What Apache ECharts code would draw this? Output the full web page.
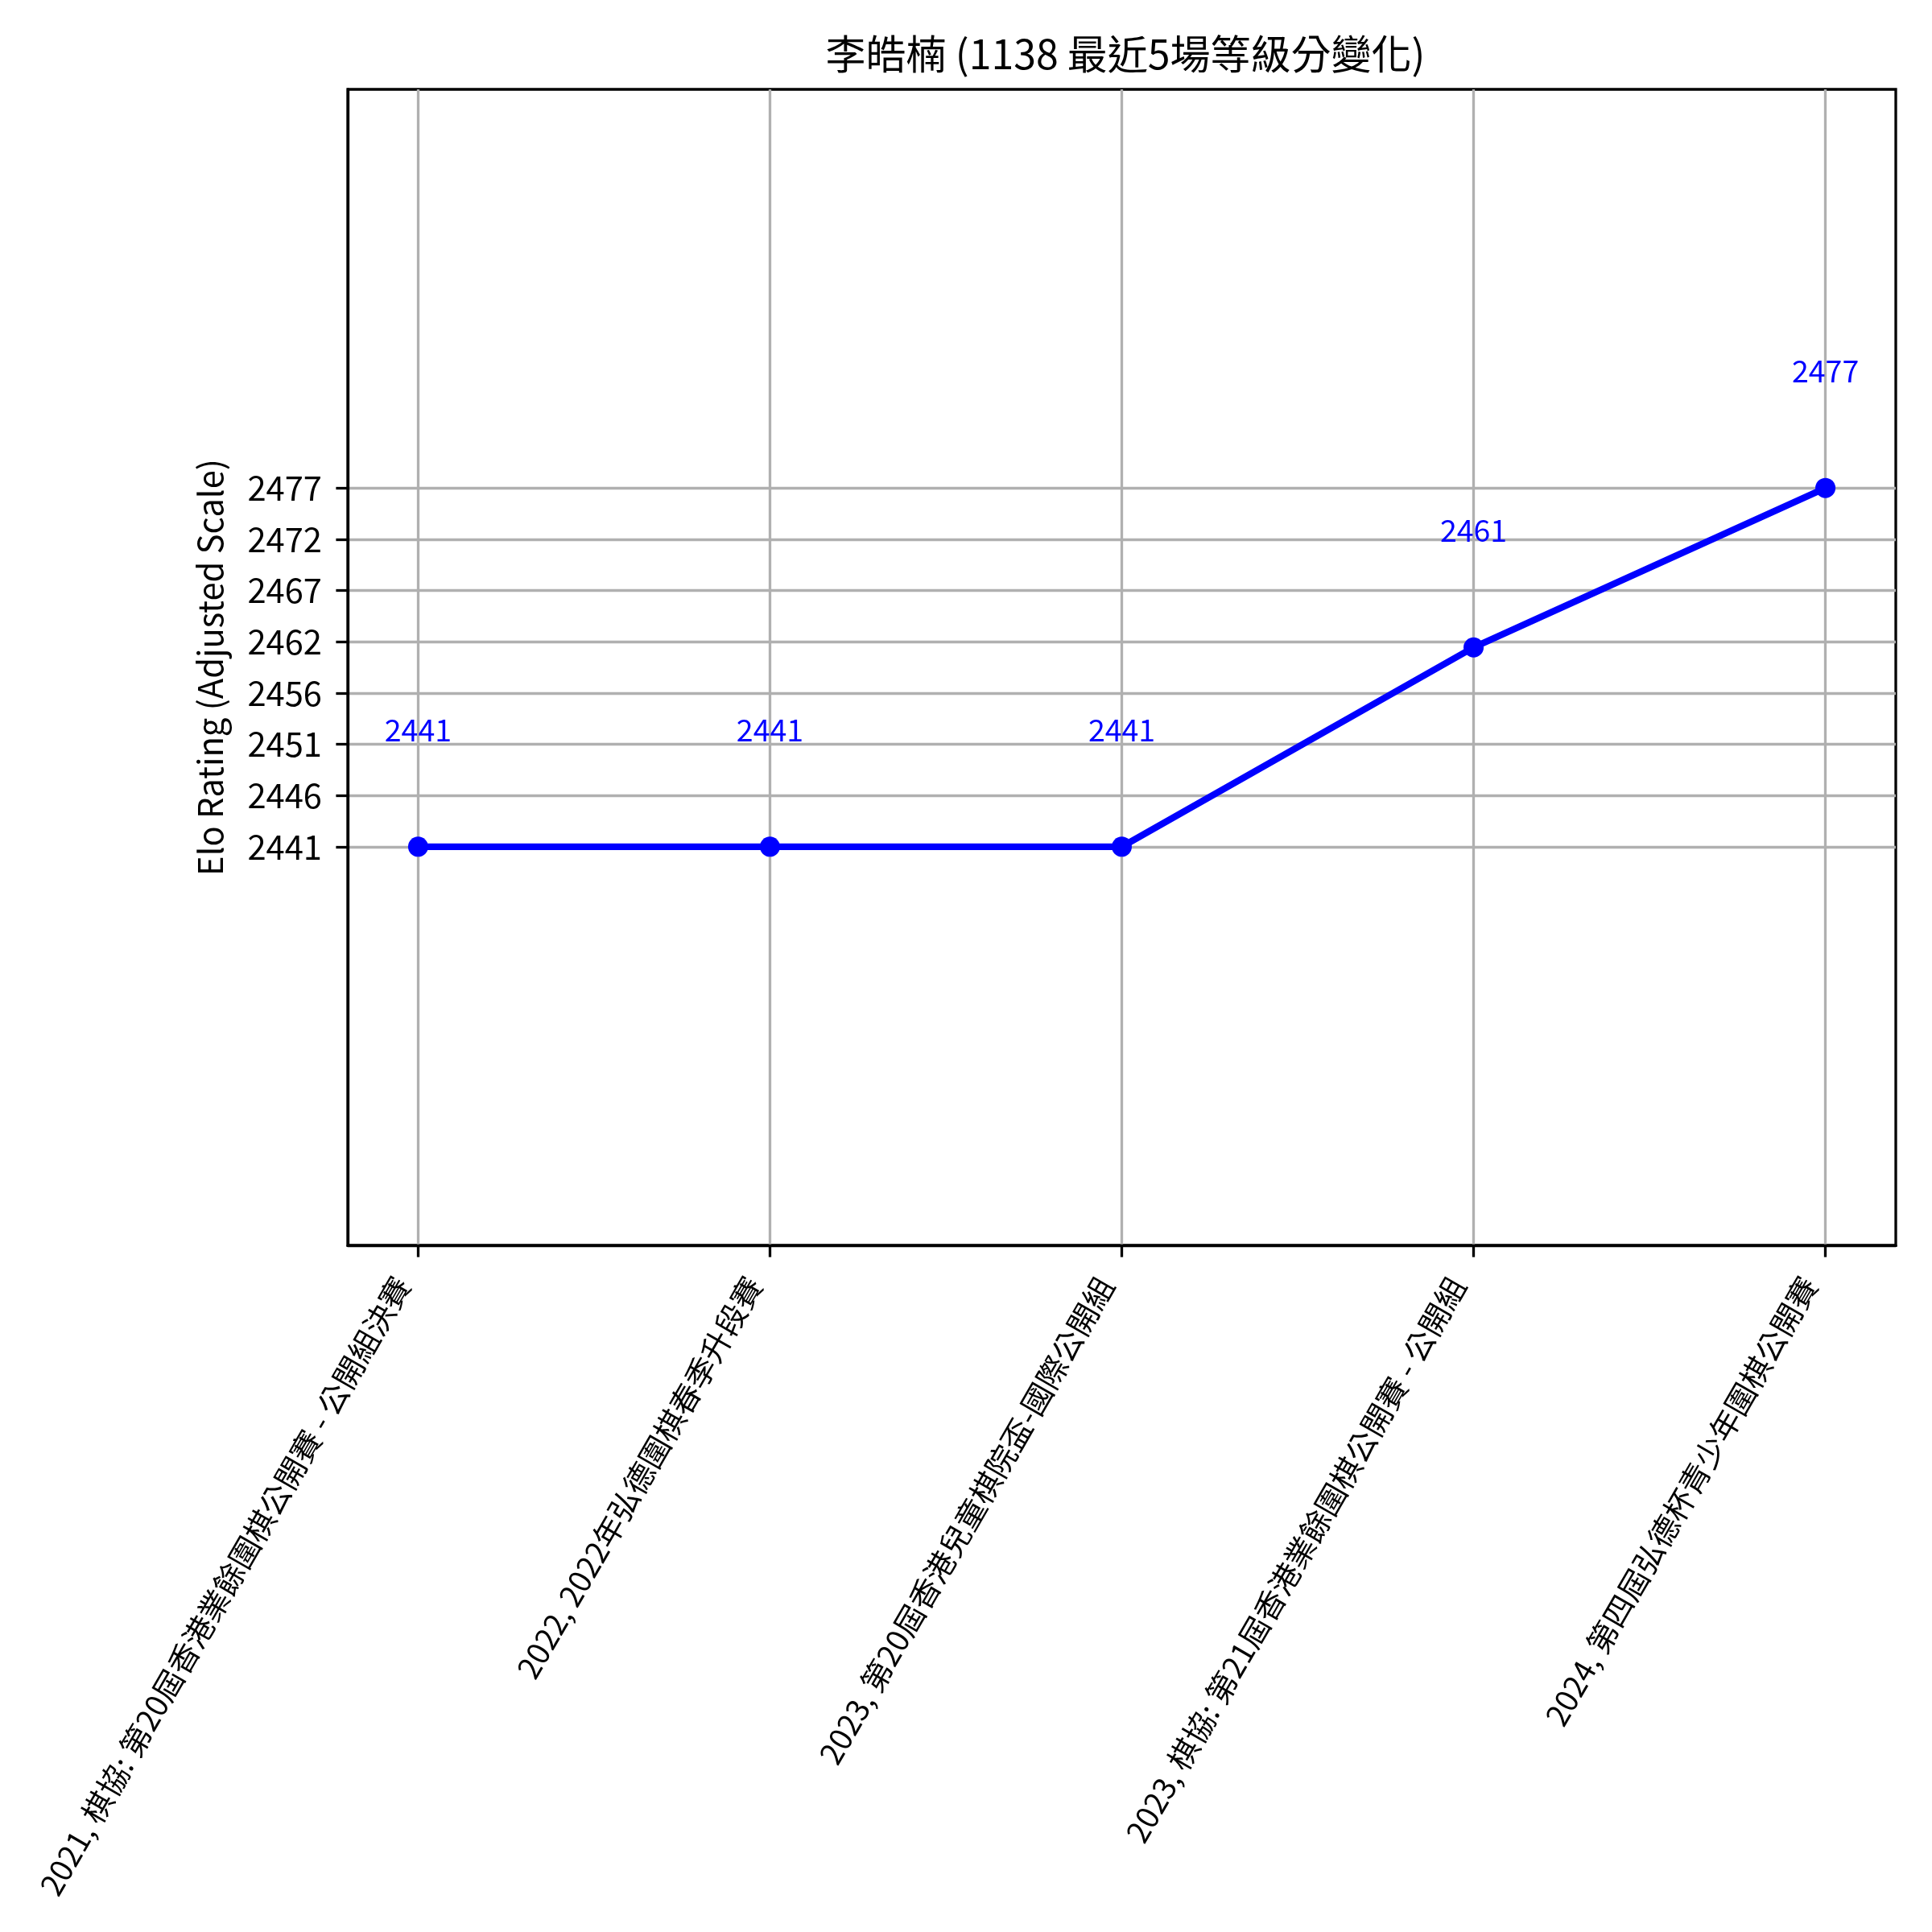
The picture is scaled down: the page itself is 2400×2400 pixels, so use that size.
<!DOCTYPE html>
<html>
<head>
<meta charset="utf-8">
<script src="https://cdn.jsdelivr.net/npm/echarts@6/dist/echarts.min.js"></script>
<style>
  html, body { margin: 0; padding: 0; background: #fff; }
  #chart { width: 2400px; height: 2400px; }
</style>
</head>
<body>
<div id="chart"></div>
<script>
const FONT = "'Noto Sans CJK TC', 'Noto Sans', sans-serif";

const events = [
  "2021, 棋協: 第20屆香港業餘圍棋公開賽 - 公開組決賽",
  "2022, 2022年弘德圍棋春季升段賽",
  "2023, 第20屆香港兒童棋院盃-國際公開組",
  "2023, 棋協: 第21屆香港業餘圍棋公開賽 - 公開組",
  "2024, 第四屆弘德杯青少年圍棋公開賽",
];
const eventIndex = [0, 1, 2, 3, 4];
const ratings = [2441, 2441, 2441, 2461, 2477];

const yTickValues = [2441, 2446.1429, 2451.2857, 2456.4286, 2461.5714, 2466.7143, 2471.8571, 2477];
const yTickLabels = ["2441", "2446", "2451", "2456", "2462", "2467", "2472", "2477"];

const chart = echarts.init(document.getElementById("chart"));

function nearest(arr, v) {
  let best = 0;
  arr.forEach((a, i) => { if (Math.abs(a - v) < Math.abs(arr[best] - v)) best = i; });
  return best;
}

chart.setOption({
  animation: false,
  backgroundColor: "#fff",
  textStyle: { fontFamily: FONT },
  title: {
    text: "李皓楠 (1138 最近5場等級分變化)",
    left: 1393,
    top: 37,
    textAlign: "center",
    textStyle: { fontFamily: FONT, fontSize: 50, fontWeight: "normal", color: "#000" },
  },
  grid: {
    left: 432, right: 45, top: 111, bottom: 853,
    show: true, borderColor: "#000", borderWidth: 3.3,
    outerBoundsMode: "none",
  },
  xAxis: {
    type: "value",
    min: -0.2,
    max: 4.2,
    axisLine: { show: true, onZero: false, lineStyle: { color: "#000", width: 3.3 } },
    axisTick: { show: true, customValues: eventIndex, length: 14.6, lineStyle: { color: "#000", width: 3.3 } },
    axisLabel: {
      customValues: eventIndex,
      formatter: (v) => events[Math.round(v)],
      rotate: 60,
      margin: 8,
      padding: [0, 40, 0, 0],
      fontSize: 38,
      color: "#000",
      fontFamily: FONT,
    },
    splitLine: { show: true, lineStyle: { color: "#b0b0b0", width: 3.3 } },
  },
  yAxis: {
    type: "value",
    min: 2401,
    max: 2517,
    name: "Elo Rating (Adjusted Scale)",
    nameLocation: "middle",
    nameGap: 150,
    nameTextStyle: { fontSize: 41.7, color: "#000", fontFamily: FONT },
    axisLine: { show: true, onZero: false, lineStyle: { color: "#000", width: 3.3 } },
    axisTick: { show: true, customValues: yTickValues, length: 14.6, lineStyle: { color: "#000", width: 3.3 } },
    axisLabel: {
      customValues: yTickValues,
      formatter: (v) => yTickLabels[nearest(yTickValues, v)],
      margin: 32,
      fontSize: 41.7,
      color: "#000",
      fontFamily: FONT,
    },
    splitLine: { show: true, lineStyle: { color: "#b0b0b0", width: 3.3 } },
  },
  series: [
    {
      type: "line",
      data: eventIndex.map((i) => [i, ratings[i]]),
      symbol: "circle",
      symbolSize: 25,
      lineStyle: { color: "#0000ff", width: 8.3 },
      itemStyle: { color: "#0000ff" },
      label: {
        show: true,
        position: "top",
        distance: 113,
        formatter: (p) => String(p.value[1]),
        fontSize: 37.5,
        lineHeight: 40,
        color: "#0000ff",
        fontFamily: FONT,
      },
    },
  ],
});
</script>
</body>
</html>
